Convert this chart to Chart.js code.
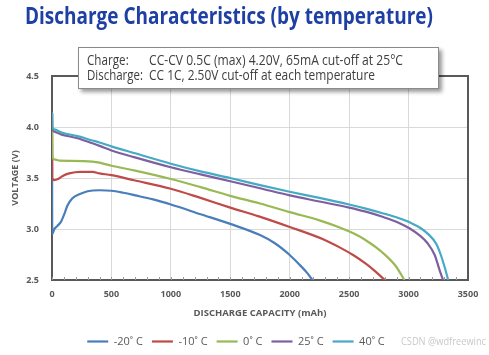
<!DOCTYPE html>
<html><head><meta charset="utf-8">
<script src="https://cdn.jsdelivr.net/npm/chart.js@4"></script>
<style>
html,body{margin:0;padding:0;background:#fff;}
#wrap{position:relative;width:489px;height:355px;overflow:hidden;font-family:"Open Sans",sans-serif;}
#c{position:absolute;left:0;top:0;}
.fit{position:absolute;white-space:nowrap;transform-origin:0 0;display:inline-block;}
#title{left:25px;top:3px;font-size:24px;line-height:24px;font-weight:700;color:#1e3fa3;}
#note{position:absolute;left:78px;top:47px;width:359px;height:40px;background:#fff;border:1px solid #8a8a8a;box-shadow:3px 3px 4px rgba(0,0,0,0.4);}
.nt{font-size:14px;line-height:14.7px;color:#404040;}
#wm{left:401px;top:335px;font-size:10px;line-height:12px;color:#c8c8c8;}
</style></head>
<body><div id="wrap">
<canvas id="c" width="489" height="355"></canvas>
<div id="title" class="fit" data-w="408">Discharge Characteristics (by temperature)</div>
<div id="note">
  <span class="fit nt" style="left:7.7px;top:5.2px" data-w="41.7">Charge:</span>
  <span class="fit nt" style="left:70.3px;top:5.2px" data-w="254">CC-CV 0.5C (max) 4.20V, 65mA cut-off at 25°C</span>
  <span class="fit nt" style="left:7.7px;top:19.9px" data-w="56">Discharge:</span>
  <span class="fit nt" style="left:70.3px;top:19.9px" data-w="226">CC 1C, 2.50V cut-off at each temperature</span>
</div>
<div id="wm" class="fit" data-w="85">CSDN @wdfreewinc</div>
</div>
<script>
// ---- data ----
const seriesNames = ['-20˚ C', '-10˚ C', '0˚ C', '25˚ C', '40˚ C'];
const seriesColors = ['#4a7ebb', '#be4b48', '#98b954', '#7d60a0', '#46aac5'];

const capM20 = [0, 2, 20, 45, 75, 105, 130, 170, 230, 300, 400, 500, 600, 700, 850, 1000, 1250, 1500, 1750, 1875, 2000, 2070, 2150, 2190];
const voltM20 = [4.14, 2.95, 3.00, 3.03, 3.07, 3.15, 3.23, 3.30, 3.34, 3.37, 3.38, 3.375, 3.355, 3.33, 3.29, 3.24, 3.145, 3.05, 2.94, 2.86, 2.745, 2.665, 2.565, 2.50];

const capM10 = [0, 2, 20, 45, 90, 145, 240, 340, 400, 500, 690, 1000, 1250, 1500, 1740, 2000, 2290, 2420, 2540, 2640, 2720, 2800];
const voltM10 = [4.14, 3.50, 3.48, 3.487, 3.52, 3.545, 3.56, 3.56, 3.545, 3.528, 3.478, 3.395, 3.305, 3.21, 3.124, 3.02, 2.895, 2.82, 2.74, 2.66, 2.585, 2.50];

const cap0 = [0, 2, 20, 65, 160, 340, 400, 500, 690, 1000, 1250, 1500, 1750, 2000, 2250, 2420, 2540, 2640, 2780, 2890, 2965];
const volt0 = [4.14, 3.71, 3.683, 3.67, 3.668, 3.66, 3.65, 3.62, 3.575, 3.49, 3.41, 3.325, 3.25, 3.165, 3.085, 3.015, 2.955, 2.89, 2.77, 2.64, 2.50];

const cap25 = [0, 2, 20, 75, 215, 340, 400, 500, 690, 1000, 1250, 1500, 1750, 2000, 2250, 2500, 2640, 2780, 2920, 3010, 3090, 3160, 3220, 3260, 3290];
const volt25 = [4.14, 4.00, 3.954, 3.928, 3.89, 3.84, 3.815, 3.77, 3.705, 3.605, 3.535, 3.468, 3.40, 3.33, 3.27, 3.21, 3.17, 3.12, 3.06, 3.005, 2.94, 2.86, 2.745, 2.60, 2.50];

const cap40 = [0, 2, 20, 75, 215, 340, 400, 500, 690, 1000, 1250, 1500, 1750, 2000, 2250, 2500, 2640, 2780, 2920, 3020, 3100, 3170, 3230, 3270, 3310, 3333];
const volt40 = [4.14, 4.00, 3.977, 3.948, 3.91, 3.868, 3.848, 3.81, 3.745, 3.64, 3.565, 3.50, 3.43, 3.365, 3.305, 3.24, 3.20, 3.155, 3.105, 3.06, 3.01, 2.945, 2.86, 2.75, 2.60, 2.50];

const seriesCaps = [capM20, capM10, cap0, cap25, cap40];
const seriesVolts = [voltM20, voltM10, volt0, volt25, volt40];

const xTickLabels = ['0', '500', '1000', '1500', '2000', '2500', '3000', '3500'];
const yTickLabels = ['2.5', '3.0', '3.5', '4.0', '4.5'];
const xMin = 0, xMax = 3500, xStep = 500, xMinorStep = 100;
const yMin = 2.5, yMax = 4.5, yStep = 0.5;

// ---- fit html text widths ----
document.querySelectorAll('.fit').forEach(el => {
  const w = el.getBoundingClientRect().width;
  const target = parseFloat(el.dataset.w);
  if (w > 0) el.style.transform = 'scaleX(' + (target / w) + ')';
});

// ---- chart ----
Chart.defaults.font.family = "'Open Sans', sans-serif";
Chart.defaults.color = '#595959';

const datasets = seriesNames.map((name, i) => ({
  label: name,
  data: seriesCaps[i].map((c, k) => ({ x: c, y: seriesVolts[i][k] })),
  borderColor: seriesColors[i],
  backgroundColor: seriesColors[i],
  borderWidth: 2.2,
  pointRadius: 0,
  cubicInterpolationMode: 'monotone',
  fill: false,
  order: seriesNames.length - i
}));

const framePlugin = {
  id: 'frame',
  beforeDatasetsDraw(chart) {
    const { ctx, chartArea: a, scales: { x } } = chart;
    ctx.save();
    ctx.strokeStyle = '#9a9a9a';
    ctx.lineWidth = 1;
    ctx.beginPath();
    for (let v = xMin; v <= xMax; v += xMinorStep) {
      const px = Math.round(x.getPixelForValue(v)) + 0.5;
      ctx.moveTo(px, a.bottom);
      ctx.lineTo(px, a.bottom - 3);
    }
    ctx.stroke();
    ctx.strokeStyle = '#595959';
    ctx.lineWidth = 2;
    ctx.beginPath();
    ctx.moveTo(a.left, a.top);
    ctx.lineTo(a.right, a.top);
    ctx.lineTo(a.right, a.bottom);
    ctx.stroke();
    ctx.restore();
  }
};

new Chart(document.getElementById('c'), {
  type: 'line',
  data: { datasets },
  plugins: [framePlugin],
  options: {
    responsive: false,
    animation: false,
    layout: { padding: { left: 4, right: 21, top: 76, bottom: -2 } },
    plugins: {
      tooltip: { enabled: false },
      legend: {
        position: 'bottom',
        labels: {
          usePointStyle: true,
          pointStyle: 'line',
          pointStyleWidth: 21,
          padding: 9,
          color: '#595959',
          font: { size: 11 },
          sort: (a, b) => a.datasetIndex - b.datasetIndex
        }
      }
    },
    scales: {
      x: {
        type: 'linear',
        min: xMin, max: xMax,
        afterFit: s => { s.height = 47; },
        grid: { color: '#d9d9d9', lineWidth: 1, drawTicks: false },
        border: { display: true, color: '#595959', width: 2 },
        ticks: {
          stepSize: xStep, padding: 9,
          font: { size: 9, weight: 'bold' }, color: '#595959',
          callback: (v, i) => xTickLabels[i]
        },
        title: {
          display: true, text: 'DISCHARGE CAPACITY (mAh)',
          font: { size: 9.5, weight: 'bold' }, color: '#595959',
          padding: { top: 0, bottom: 8 }
        }
      },
      y: {
        type: 'linear',
        min: yMin, max: yMax,
        afterFit: s => { s.width = 48; },
        grid: { color: '#d9d9d9', lineWidth: 1, drawTicks: false },
        border: { display: true, color: '#595959', width: 2 },
        ticks: {
          stepSize: yStep, padding: 13,
          font: { size: 9, weight: 'bold' }, color: '#595959',
          callback: (v, i) => yTickLabels[i]
        },
        title: {
          display: true, text: 'VOLTAGE (V)',
          font: { size: 9, weight: 'bold' }, color: '#595959',
          padding: { top: 6, bottom: 0 }
        }
      }
    }
  }
});
</script>
</body></html>
